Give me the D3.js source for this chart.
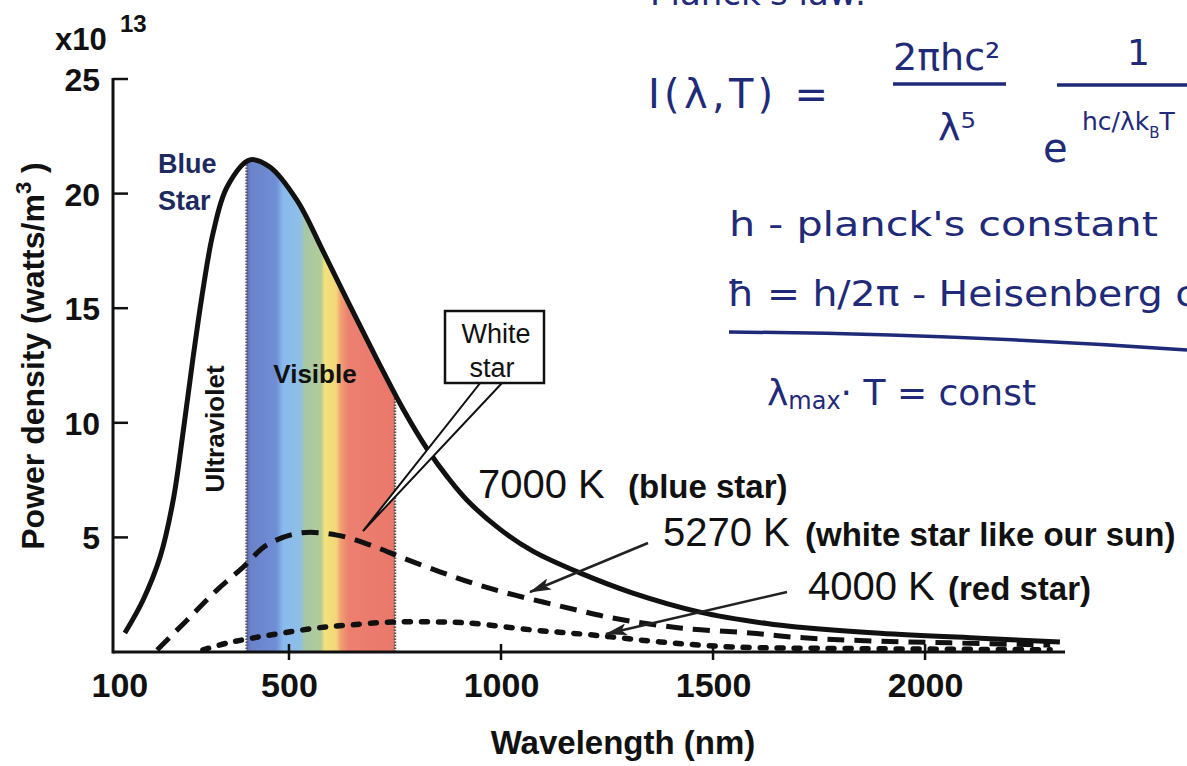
<!DOCTYPE html>
<html>
<head>
<meta charset="utf-8">
<script src="https://cdn.jsdelivr.net/npm/d3@7"></script>
<style>
  html, body { margin: 0; padding: 0; background: #fff; }
  svg { display: block; }
</style>
</head>
<body>
<svg id="chart" width="1187" height="766"></svg>
<script>
// ---------------- data ----------------
const xTicks = [100, 500, 1000, 1500, 2000];
const yTicks = [5, 10, 15, 20, 25];

// 7000 K (blue star), solid
const blueWavelength = [113, 156, 196, 227, 250, 274, 297, 321, 354, 408, 455, 519, 580, 644, 708, 769, 826, 873, 920, 998, 1075, 1186, 1311, 1469, 1627, 1705, 1894, 2130, 2318];
const bluePower      = [0.83, 2.27, 4.14, 6.63, 9.55, 12.87, 15.79, 18.28, 20.29, 21.47, 21.16, 19.7, 17.5, 15.1, 12.75, 10.6, 8.85, 7.65, 6.62, 5.35, 4.4, 3.45, 2.57, 1.74, 1.24, 1.08, 0.82, 0.6, 0.44];

// 5270 K (white star), dashed
const whiteWavelength = [189, 260, 330, 392, 448, 526, 613, 691, 769, 856, 934, 1014, 1099, 1179, 1264, 1422, 1587, 1689, 1846, 2059, 2295];
const whitePower      = [0.09, 1.4, 2.7, 3.7, 4.67, 5.19, 5.1, 4.67, 4.1, 3.5, 3.0, 2.57, 2.18, 1.83, 1.48, 1.05, 0.83, 0.65, 0.5, 0.4, 0.3];

// 4000 K (red star), dotted
const redWavelength = [297, 354, 415, 486, 566, 644, 745, 849, 920, 1075, 1217, 1375, 1547, 1823, 2295];
const redPower      = [0.09, 0.39, 0.61, 0.83, 1.05, 1.18, 1.31, 1.31, 1.27, 0.96, 0.74, 0.44, 0.22, 0.15, 0.1];

// visible band and its colours
const visibleRange = [400, 750];
const spectrumWavelength = [400, 410, 470, 486, 528, 536, 576, 584, 612, 622, 640, 750];
const spectrumColor = ["#5d69b4", "#6b82ca", "#6f8ed6", "#88baee", "#8fbfe6", "#a7c7a6", "#b2cc98", "#f3e27c", "#f3d57a", "#f0a072", "#ec8070", "#ea786a"];

// ---------------- chart ----------------
const svg = d3.select("#chart");
const x = d3.scaleLinear().domain([85, 2330]).range([113, 1065]);
const y = d3.scaleLinear().domain([0, 25]).range([652, 79]);

const toPts = (xs, ys) => xs.map((w, i) => ({ w, v: ys[i] }));
const blue = toPts(blueWavelength, bluePower);
const white = toPts(whiteWavelength, whitePower);
const red = toPts(redWavelength, redPower);

const curve = d3.curveCatmullRom.alpha(0.5);
const line = d3.line().x(d => x(d.w)).y(d => y(d.v)).curve(curve);
const area = d3.area().x(d => x(d.w)).y0(y(0)).y1(d => y(d.v)).curve(curve);

const defs = svg.append("defs");
const grad = defs.append("linearGradient").attr("id", "spec")
  .attr("gradientUnits", "userSpaceOnUse")
  .attr("x1", x(visibleRange[0])).attr("x2", x(visibleRange[1]))
  .attr("y1", 0).attr("y2", 0);
const gs = d3.scaleLinear().domain(visibleRange).range([0, 1]);
spectrumWavelength.forEach((w, i) => {
  grad.append("stop").attr("offset", gs(w)).attr("stop-color", spectrumColor[i]);
});
defs.append("clipPath").attr("id", "bandClip").append("rect")
  .attr("x", x(visibleRange[0])).attr("y", 0)
  .attr("width", x(visibleRange[1]) - x(visibleRange[0])).attr("height", 766);
defs.append("clipPath").attr("id", "underCurve").append("path").attr("d", area(blue));

defs.append("marker").attr("id", "arr")
  .attr("markerUnits", "userSpaceOnUse")
  .attr("viewBox", "0 0 22 12").attr("refX", 21).attr("refY", 6)
  .attr("markerWidth", 22).attr("markerHeight", 12).attr("orient", "auto")
  .append("path").attr("d", "M0,0 L22,6 L0,12 L5,6 Z").attr("fill", "#222");

// spectrum band
svg.append("path").attr("d", area(blue)).attr("fill", "url(#spec)")
  .attr("clip-path", "url(#bandClip)");
const borders = svg.append("g").attr("clip-path", "url(#underCurve)");
visibleRange.forEach(w => {
  borders.append("line").attr("x1", x(w)).attr("x2", x(w))
    .attr("y1", y(0)).attr("y2", y(25))
    .attr("stroke", "#555").attr("stroke-width", 2.5).attr("stroke-dasharray", "1.5,1.5");
});

// curves
svg.append("path").attr("d", line(red)).attr("fill", "none").attr("stroke", "#111")
  .attr("stroke-width", 5.5).attr("stroke-dasharray", "6,11").attr("stroke-linecap", "round");
svg.append("path").attr("d", line(white)).attr("fill", "none").attr("stroke", "#111")
  .attr("stroke-width", 5).attr("stroke-dasharray", "17,10");
svg.append("path").attr("d", line(blue)).attr("fill", "none").attr("stroke", "#111")
  .attr("stroke-width", 5).attr("stroke-linejoin", "round");

// axes
const FONT = "'Liberation Sans', Arial, Helvetica, sans-serif";
const gx = svg.append("g").attr("transform", `translate(0,${y(0)})`)
  .call(d3.axisBottom(x).tickValues(xTicks).tickFormat(d3.format("d")).tickSize(0).tickPadding(0));
gx.select(".domain").remove();
gx.selectAll("text").attr("font-family", FONT).attr("font-weight", "bold")
  .attr("font-size", 34).attr("fill", "#111").attr("dy", null).attr("y", 45);
const gy = svg.append("g").attr("transform", `translate(${x.range()[0]},0)`)
  .call(d3.axisLeft(y).tickValues(yTicks).tickFormat(d3.format("d")).tickSize(0).tickPadding(13));
gy.select(".domain").remove();
gy.selectAll("text").attr("font-family", FONT).attr("font-weight", "bold")
  .attr("font-size", 32).attr("fill", "#111").attr("dy", "0.36em");

svg.append("line").attr("x1", 113).attr("x2", 113).attr("y1", y(25) - 1).attr("y2", y(0) + 1.5)
  .attr("stroke", "#111").attr("stroke-width", 3);
svg.append("line").attr("x1", 113).attr("x2", x.range()[1]).attr("y1", y(0)).attr("y2", y(0))
  .attr("stroke", "#111").attr("stroke-width", 3);
yTicks.forEach(v => {
  svg.append("line").attr("x1", 113).attr("x2", 128).attr("y1", y(v)).attr("y2", y(v))
    .attr("stroke", "#111").attr("stroke-width", 2.5);
});
xTicks.filter(v => v >= 500).forEach(v => {
  svg.append("line").attr("x1", x(v)).attr("x2", x(v)).attr("y1", y(0) - 8).attr("y2", y(0) + 8)
    .attr("stroke", "#111").attr("stroke-width", 2.5);
});

// axis titles
svg.append("text").attr("x", 623).attr("y", 754).attr("text-anchor", "middle")
  .attr("font-family", FONT).attr("font-weight", "bold").attr("font-size", 33).attr("fill", "#111")
  .text("Wavelength (nm)");
const yt = svg.append("text").attr("transform", "translate(44,356) rotate(-90)")
  .attr("text-anchor", "middle").attr("font-family", FONT).attr("font-weight", "bold")
  .attr("font-size", 32).attr("fill", "#111");
yt.append("tspan").text("Power density (watts/m");
yt.append("tspan").attr("font-size", 22).attr("dy", -13).text("3");
yt.append("tspan").attr("dy", 13).text(" )");

const exp = svg.append("text").attr("x", 55).attr("y", 50).attr("font-family", FONT)
  .attr("font-weight", "bold").attr("font-size", 31).attr("fill", "#111");
exp.append("tspan").text("x10");
exp.append("tspan").attr("x", 120).attr("y", 32).attr("font-size", 24).text("13");

// in-plot labels
svg.append("text").attr("x", 158).attr("y", 173).attr("font-family", FONT).attr("font-weight", "bold")
  .attr("font-size", 27).attr("fill", "#1d2a5f").text("Blue");
svg.append("text").attr("x", 158).attr("y", 210).attr("font-family", FONT).attr("font-weight", "bold")
  .attr("font-size", 27).attr("fill", "#1d2a5f").text("Star");
svg.append("text").attr("transform", "translate(224,429) rotate(-90)").attr("text-anchor", "middle")
  .attr("font-family", FONT).attr("font-weight", "bold").attr("font-size", 26).attr("fill", "#111")
  .text("Ultraviolet");
svg.append("text").attr("x", 315).attr("y", 383).attr("text-anchor", "middle")
  .attr("font-family", FONT).attr("font-weight", "bold").attr("font-size", 26).attr("fill", "#111")
  .text("Visible");

// white star callout
svg.append("path").attr("d", "M481,382 L503,382 L363,531 Z")
  .attr("fill", "#fff").attr("stroke", "#111").attr("stroke-width", 2).attr("stroke-linejoin", "miter");
svg.append("rect").attr("x", 445).attr("y", 311).attr("width", 99).attr("height", 72)
  .attr("fill", "#fff").attr("stroke", "#111").attr("stroke-width", 2.5);
svg.append("text").attr("x", 496).attr("y", 343).attr("text-anchor", "middle")
  .attr("font-family", FONT).attr("font-size", 27).attr("fill", "#111").text("White");
svg.append("text").attr("x", 492).attr("y", 377).attr("text-anchor", "middle")
  .attr("font-family", FONT).attr("font-size", 27).attr("fill", "#111").text("star");

// temperature labels
function tempLabel(xk, yb, big, xs, small) {
  svg.append("text").attr("x", xk).attr("y", yb).attr("font-family", FONT)
    .attr("font-size", 40).attr("fill", "#111").text(big);
  svg.append("text").attr("x", xs).attr("y", yb).attr("font-family", FONT).attr("font-weight", "bold")
    .attr("font-size", 33).attr("fill", "#111").text(small);
}
tempLabel(478, 498, "7000 K", 628, "(blue star)");
tempLabel(663, 546, "5270 K", 805, "(white star like our sun)");
tempLabel(808, 600, "4000 K", 948, "(red star)");

svg.append("line").attr("x1", 648).attr("y1", 543).attr("x2", 530).attr("y2", 592)
  .attr("stroke", "#222").attr("stroke-width", 2.5).attr("marker-end", "url(#arr)");
svg.append("line").attr("x1", 787).attr("y1", 592).attr("x2", 606).attr("y2", 634)
  .attr("stroke", "#222").attr("stroke-width", 2.5).attr("marker-end", "url(#arr)");

// handwritten notes
const NAVY = "#1f2a78";
const HAND = "'DejaVu Sans', sans-serif";
function hand(xp, yp, size, txt, extra) {
  const t = svg.append("text").attr("x", xp).attr("y", yp).attr("font-family", HAND)
    .attr("font-size", size).attr("fill", NAVY).text(txt);
  if (extra) extra(t);
  return t;
}
hand(650, 5, 34, "Planck's law:");
hand(648, 108, 40, "I(λ,T) =", t => t.attr("textLength", 180).attr("lengthAdjust", "spacing"));
hand(893, 70, 38, "2πhc²");
svg.append("line").attr("x1", 893).attr("x2", 1006).attr("y1", 84).attr("y2", 84)
  .attr("stroke", NAVY).attr("stroke-width", 3.5);
hand(938, 140, 38, "λ⁵");
hand(1127, 65, 36, "1");
svg.append("line").attr("x1", 1057).attr("x2", 1187).attr("y1", 85).attr("y2", 85)
  .attr("stroke", NAVY).attr("stroke-width", 3.5);
hand(1043, 162, 40, "e");
const ex = hand(1082, 130, 25, "hc/λk");
ex.append("tspan").attr("font-size", 15).attr("dy", 8).text("B");
ex.append("tspan").attr("dy", -8).text("T");
hand(729, 236, 34, "h - planck's  constant", t => t.attr("textLength", 429).attr("lengthAdjust", "spacingAndGlyphs"));
hand(727, 306, 36, "ħ = h/2π - Heisenberg  c", t => t.attr("textLength", 470).attr("lengthAdjust", "spacingAndGlyphs"));
svg.append("path").attr("d", "M729,332 Q960,334 1187,350").attr("fill", "none")
  .attr("stroke", NAVY).attr("stroke-width", 3.5);
const lm = hand(767, 405, 36, "λ");
lm.append("tspan").attr("font-size", 24).attr("dy", 4).text("max");
lm.append("tspan").attr("dy", -4).text("· T = const");
</script>
</body>
</html>
